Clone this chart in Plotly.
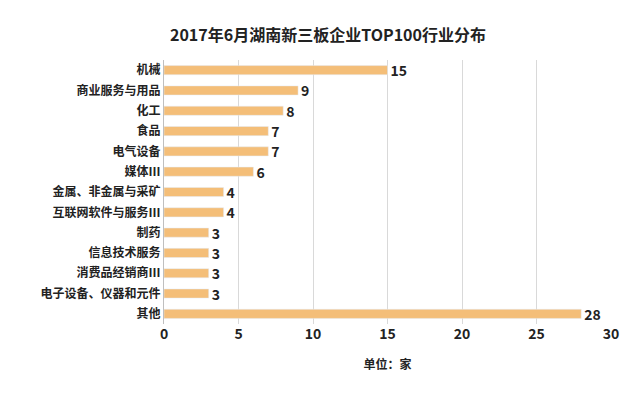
import plotly.graph_objects as go

categories = ["机械", "商业服务与用品", "化工", "食品", "电气设备", "媒体Ⅲ", "金属、非金属与采矿",
              "互联网软件与服务Ⅲ", "制药", "信息技术服务", "消费品经销商Ⅲ", "电子设备、仪器和元件", "其他"]
values = [15, 9, 8, 7, 7, 6, 4, 4, 3, 3, 3, 3, 28]
xticks = [0, 5, 10, 15, 20, 25, 30]

font = "Noto Sans CJK SC"
fig = go.Figure(go.Bar(
    y=categories, x=values, orientation="h",
    marker=dict(color="#F4BE78"), width=0.45,
    text=["<b>%d</b>" % v for v in values], textposition="outside",
    constraintext="none",
    textfont=dict(size=14, color="#222", family=font),
    cliponaxis=False,
))
fig.update_layout(
    width=640, height=400, plot_bgcolor="white", paper_bgcolor="white",
    margin=dict(l=156, r=37, t=52, b=84),
    title=dict(text="<b>2017年6月湖南新三板企业TOP100行业分布</b>", x=0.5, xanchor="center",
               y=0.945, font=dict(size=16, family=font, color="#222")),
    font=dict(family=font, color="#222"),
)
fig.update_xaxes(range=[0, 30], tickvals=xticks, ticktext=["<b>%d</b>" % t for t in xticks],
                 showgrid=True, gridcolor="#d9d9d9", zeroline=False, automargin=False,
                 tickfont=dict(size=14, family=font), ticks="",
                 title=dict(text="<b>单位：家</b>", font=dict(size=12, family=font), standoff=18))
fig.update_yaxes(autorange="reversed", tickfont=dict(size=12, family=font), ticks="",
                 showline=True, linecolor="#bfbfbf", ticksuffix=" ", automargin=False,
                 tickvals=categories, ticktext=["<b>%s</b>" % c for c in categories])
fig.write_html("out.html")
